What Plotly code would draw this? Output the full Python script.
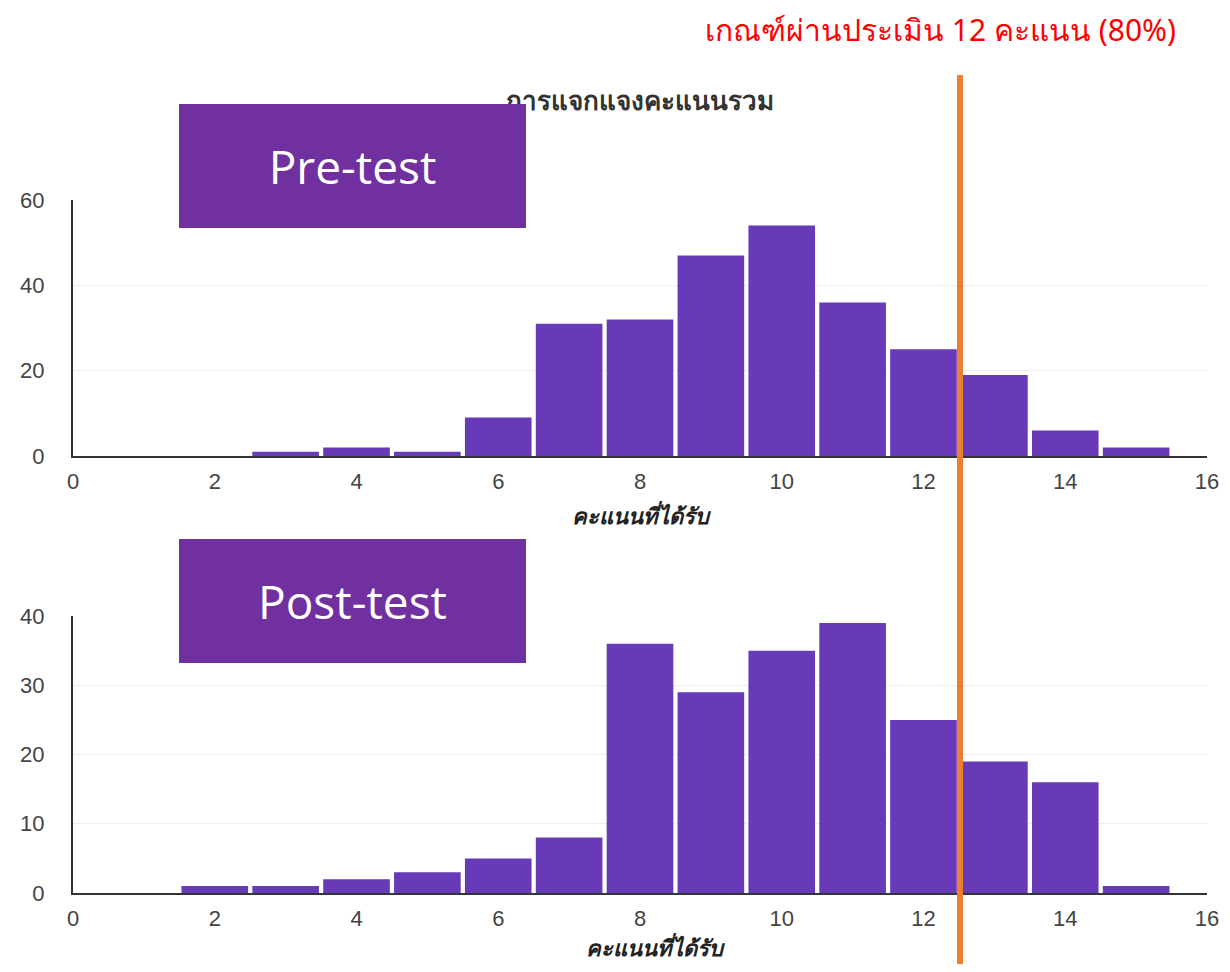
import plotly.graph_objects as go

# page offset from the browser's default body margin
OFF = 8
W, H = 1230 - 2 * OFF, 972 - 2 * OFF

scores = list(range(1, 16))
pre_counts = [0, 0, 1, 2, 1, 9, 31, 32, 47, 54, 36, 25, 19, 6, 2]
post_counts = [0, 1, 1, 2, 3, 5, 8, 36, 29, 35, 39, 25, 19, 16, 1]

chart_title = "การแจกแจงคะแนนรวม"
x_title = "คะแนนที่ได้รับ"
criterion_text = "เกณฑ์ผ่านประเมิน 12 คะแนน (80%)"
label_pre = "Pre-test"
label_post = "Post-test"

BAR = "#673AB7"
BOX = "#7030A0"
ORANGE = "#ED7D31"


def px(x):
    return (x - OFF) / W


def py(y):
    return 1 - (y - OFF) / H


fig = go.Figure()
fig.add_trace(go.Bar(x=scores, y=pre_counts, marker=dict(color=BAR, line=dict(width=0)),
                     xaxis="x", yaxis="y"))
fig.add_trace(go.Bar(x=scores, y=post_counts, marker=dict(color=BAR, line=dict(width=0)),
                     xaxis="x2", yaxis="y2"))

tickfont = dict(family="Liberation Sans, Arial, sans-serif", size=22, color="#444444")
common_x = dict(range=[0, 16], tickvals=[0, 2, 4, 6, 8, 10, 12, 14, 16], showgrid=False,
                zeroline=False, showline=True, linecolor="#333333", linewidth=2,
                ticks="outside", ticklen=5, tickcolor="rgba(0,0,0,0)", tickfont=tickfont)
common_y = dict(showgrid=True, gridcolor="#EEEEEE", gridwidth=1, zeroline=False,
                showline=True, linecolor="#333333", linewidth=2,
                ticks="outside", ticklen=22, tickcolor="rgba(0,0,0,0)", tickfont=tickfont)

fig.update_layout(
    width=W, height=H,
    margin=dict(l=0, r=0, t=0, b=0, autoexpand=False),
    paper_bgcolor="white", plot_bgcolor="white",
    showlegend=False, bargap=0.06,
    xaxis=dict(domain=[px(73), px(1207)], anchor="y", **common_x),
    yaxis=dict(domain=[py(456), py(200)], anchor="x", range=[0, 60],
               tickvals=[0, 20, 40, 60], **common_y),
    xaxis2=dict(domain=[px(73), px(1207)], anchor="y2", **common_x),
    yaxis2=dict(domain=[py(893), py(616)], anchor="x2", range=[0, 40],
                tickvals=[0, 10, 20, 30, 40], **common_y),
)

annotations = [
    dict(text="<b>" + chart_title + "</b>", x=px(640), y=py(100), xanchor="center", yanchor="middle",
         font=dict(family="Noto Sans, sans-serif", size=26, color="#333333")),
    dict(text="<b><i>" + x_title + "</i></b>", x=px(641), y=py(515), xanchor="center", yanchor="middle",
         font=dict(family="Noto Sans, sans-serif", size=22, color="#222222")),
    dict(text="<b><i>" + x_title + "</i></b>", x=px(655), y=0, xanchor="center", yanchor="bottom",
         font=dict(family="Noto Sans, sans-serif", size=22, color="#222222")),
    dict(text=label_pre, x=px(179), y=py(104), xanchor="left", yanchor="top",
         width=347, height=124, bgcolor=BOX, borderpad=0, borderwidth=0, align="center",
         font=dict(family="Open Sans, sans-serif", size=46, color="white")),
    dict(text=label_post, x=px(179), y=py(539), xanchor="left", yanchor="top",
         width=347, height=124, bgcolor=BOX, borderpad=0, borderwidth=0, align="center",
         font=dict(family="Open Sans, sans-serif", size=46, color="white")),
    dict(text=criterion_text, x=px(940), y=py(30), xanchor="center", yanchor="middle",
         font=dict(family="Noto Sans, sans-serif", size=30, color="#FF0000")),
]
for a in annotations:
    a.update(xref="paper", yref="paper", showarrow=False)
fig.update_layout(annotations=annotations)

fig.add_shape(type="line", xref="paper", yref="paper", x0=px(960), x1=px(960),
              y0=py(75), y1=0, line=dict(color=ORANGE, width=6), layer="above")

fig.write_html("out.html", config={"displayModeBar": False})
